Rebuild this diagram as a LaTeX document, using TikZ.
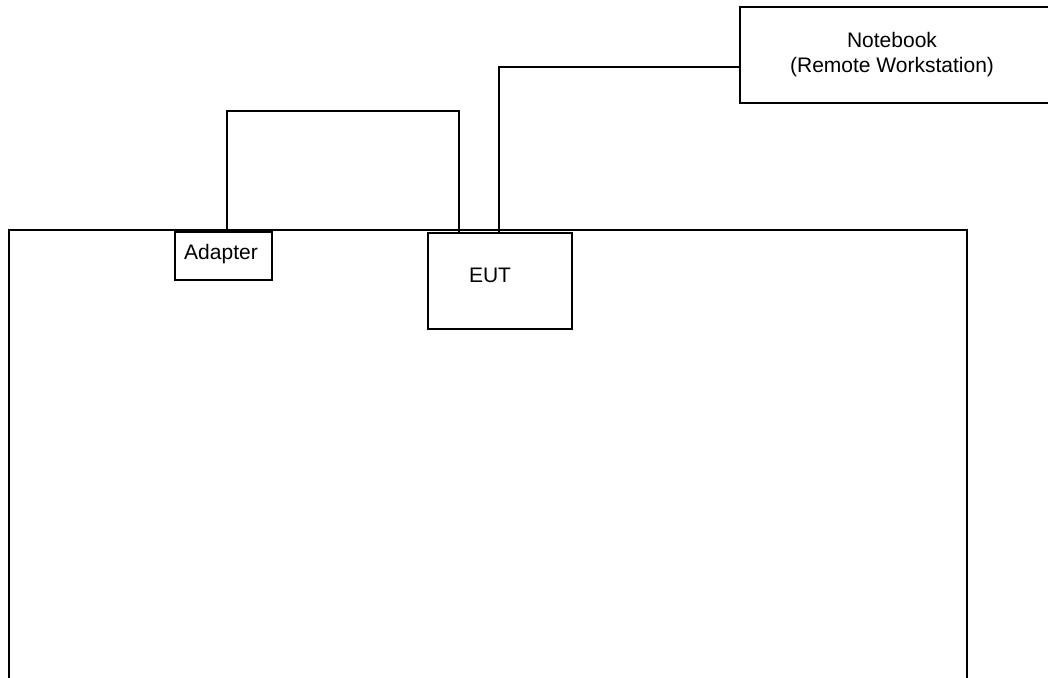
\documentclass[tikz,border=0pt]{standalone}
\usepackage{fontspec}
\setmainfont{Liberation Sans}
\begin{document}
\begin{tikzpicture}[x=1pt,y=-1pt,
  line width=1.6pt,
  every node/.style={font=\fontsize{21}{25}\selectfont},
  box/.style={draw, line width=1.6pt, rectangle, inner sep=0pt, anchor=north west},
  cable/.style={draw, line width=1.6pt}]
  \clip (0,0) rectangle (1048,677);
  \useasboundingbox (0,0) rectangle (1048,677);

  % test table (open at the bottom)
  \draw (9,690) -- (9,230) -- (967,230) -- (967,690);

  % equipment on the table
  \node[box, fill=white, minimum width=97pt, minimum height=48pt] (adapter) at (174,231) {};
  \node at (221,254) {Adapter};
  \node[box, fill=white, minimum width=144pt, minimum height=96pt] (eut) at (427,232) {};
  \node at (490,275) {EUT};

  % remote notebook
  \node[box, minimum width=330pt, minimum height=96pt] (nb) at (739,6) {};
  \node[align=center] at (892,55) {Notebook\\(Remote Workstation)};

  % cabling
  \coordinate (a1) at (227,111);
  \coordinate (a2) at (459,111);
  \coordinate (n1) at (499,67);
  \draw[cable] (adapter.north west -| a1) -- (a1) -- (a2) -- (eut.north west -| a2);
  \draw[cable] (eut.north west -| n1) -- (n1) -- (nb.west |- n1);
\end{tikzpicture}
\end{document}
